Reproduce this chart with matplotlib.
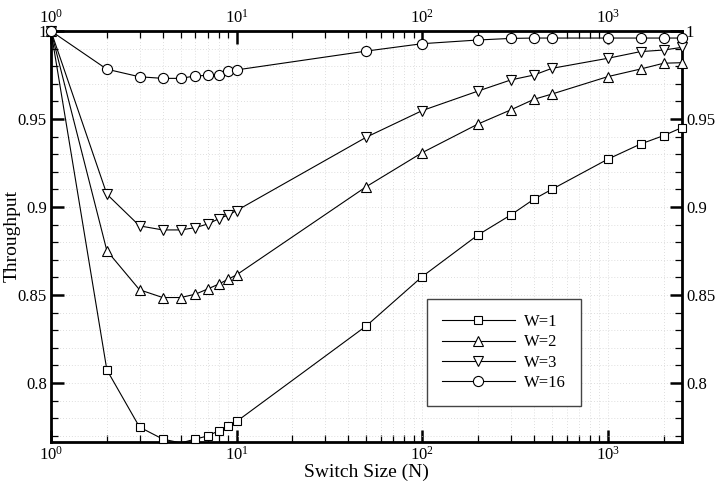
import numpy as np
import matplotlib
matplotlib.use("Agg")
import matplotlib.pyplot as plt
from matplotlib.lines import Line2D
from matplotlib.ticker import LogLocator, MultipleLocator, FormatStrFormatter, NullFormatter

plt.rcParams['font.family'] = ['Liberation Serif', 'DejaVu Serif']
plt.rcParams['mathtext.fontset'] = 'custom'
plt.rcParams['mathtext.rm'] = 'Liberation Serif'
plt.rcParams['mathtext.it'] = 'Liberation Serif:italic'

# --- data ---
switch_size = np.array([1, 2, 3, 4, 5, 6, 7, 8, 9, 10, 50, 100, 200, 300, 400, 500, 1000, 1500, 2000, 2500])

w1 = np.array([1.0, 0.8075, 0.775, 0.7682, 0.766, 0.7682, 0.7700, 0.7729, 0.7758, 0.7782,
               0.8325, 0.8605, 0.8842, 0.8955, 0.9045, 0.9101, 0.9272, 0.9358, 0.9406, 0.9451])
w2 = np.array([1.0, 0.8752, 0.8530, 0.8486, 0.8486, 0.8505, 0.8535, 0.8562, 0.8590, 0.8615,
               0.9116, 0.9309, 0.9472, 0.9552, 0.9612, 0.9642, 0.9741, 0.9784, 0.9817, 0.9820])
w3 = np.array([1.0, 0.9073, 0.8893, 0.8870, 0.8870, 0.8883, 0.8904, 0.8933, 0.8955, 0.8980,
               0.9397, 0.9548, 0.9659, 0.9722, 0.9750, 0.9788, 0.9845, 0.9883, 0.9892, 0.9907])
w16 = np.array([1.0, 0.9783, 0.9740, 0.9731, 0.9731, 0.9745, 0.9748, 0.9752, 0.9773, 0.9779,
                0.9886, 0.9928, 0.9949, 0.9958, 0.9960, 0.9960, 0.9960, 0.9960, 0.9960, 0.9960])

series = [("W=1", w1, "s", 5.3), ("W=2", w2, "^", 6.5),
          ("W=3", w3, "v", 6.5), ("W=16", w16, "o", 7.3)]

ymin, ymax = 0.7667, 1.0

fig = plt.figure(figsize=(7.17, 4.83), dpi=100)
ax = fig.add_axes([0.0711, 0.0855, 0.8797, 0.8503])

handles = []
for label, y, mk, ms in series:
    # full line, clipped to the axes
    ax.plot(switch_size, y, '-', color='black', lw=0.8, zorder=3)
    # markers only where inside the y range, allowed to overhang the frame
    inside = y >= ymin
    ax.plot(switch_size[inside], y[inside], ls='none', marker=mk, ms=ms,
            mfc='white', mec='black', mew=0.8, clip_on=False, zorder=4)
    handles.append(Line2D([], [], color='black', lw=0.8, marker=mk, ms=ms,
                          mfc='white', mec='black', mew=0.8, label=label))

ax.set_xscale('log')
ax.set_xlim(1, 2500)
ax.set_ylim(ymin, ymax)

ax.xaxis.set_major_locator(LogLocator(base=10))
ax.xaxis.set_minor_locator(LogLocator(base=10, subs=np.arange(2, 10)))
ax.xaxis.set_minor_formatter(NullFormatter())
ax.yaxis.set_major_locator(MultipleLocator(0.05))
ax.yaxis.set_minor_locator(MultipleLocator(0.01))
ax.yaxis.set_major_formatter(FormatStrFormatter('%g'))

ax.tick_params(which='both', direction='in', top=True, right=True,
               labeltop=True, labelright=True, labelsize=12, pad=3)
ax.tick_params(which='major', length=9, width=1.8)
ax.tick_params(which='minor', length=5, width=0.9)

for sp in ax.spines.values():
    sp.set_linewidth(2.0)

ax.grid(which='both', ls=(0, (1, 2.5)), color='#d4d4d4', lw=0.6)
ax.set_axisbelow(True)

ax.set_xlabel("Switch Size (N)", fontsize=14, labelpad=0)
ax.set_ylabel("Throughput", fontsize=14, labelpad=-2)

leg = ax.legend(handles=handles, loc='upper left', bbox_to_anchor=(0.5957, 0.3467),
                borderaxespad=0, fontsize=12, handlelength=4.4, handletextpad=0.55,
                labelspacing=0.25, borderpad=0.9, fancybox=False, framealpha=1,
                edgecolor='#444444')
leg.get_frame().set_linewidth(1.0)

fig.savefig("out.png", dpi=100)
